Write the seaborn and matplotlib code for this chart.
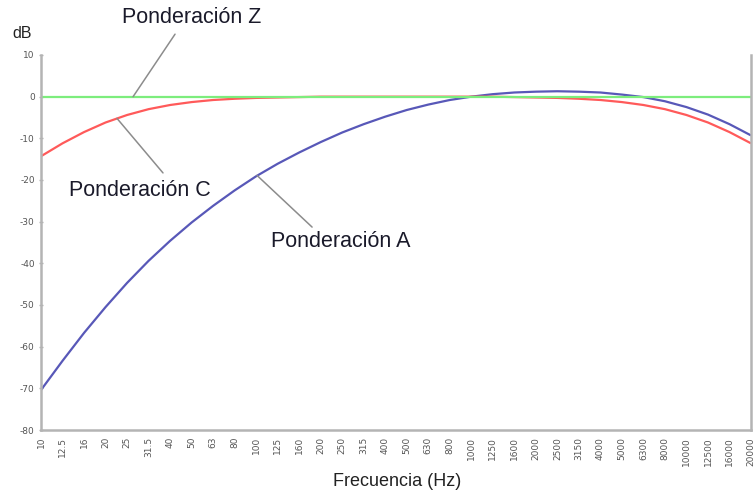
import matplotlib
matplotlib.use("Agg")
import matplotlib.pyplot as plt
import seaborn as sns
import pandas as pd
import numpy as np

freqs = ["10", "12.5", "16", "20", "25", "31.5", "40", "50", "63", "80", "100", "125",
         "160", "200", "250", "315", "400", "500", "630", "800", "1000", "1250", "1600",
         "2000", "2500", "3150", "4000", "5000", "6300", "8000", "10000", "12500",
         "16000", "20000"]
a_weight = [-70.4, -63.4, -56.7, -50.5, -44.7, -39.4, -34.6, -30.2, -26.2, -22.5, -19.1,
            -16.1, -13.4, -10.9, -8.6, -6.6, -4.8, -3.2, -1.9, -0.8, 0.0, 0.6, 1.0, 1.2,
            1.3, 1.2, 1.0, 0.5, -0.1, -1.1, -2.5, -4.3, -6.6, -9.3]
c_weight = [-14.3, -11.2, -8.5, -6.2, -4.4, -3.0, -2.0, -1.3, -0.8, -0.5, -0.3, -0.2,
            -0.1, 0.0, 0.0, 0.0, 0.0, 0.0, 0.0, 0.0, 0.0, 0.0, -0.1, -0.2, -0.3, -0.5,
            -0.8, -1.3, -2.0, -3.0, -4.4, -6.2, -8.5, -11.2]
z_weight = [0.0] * len(freqs)
series_names = ["Ponderación A", "Ponderación C", "Ponderación Z"]
y_ticks = [10, 0, -10, -20, -30, -40, -50, -60, -70, -80]

sns.set_theme(style="white")
plt.rcParams["font.family"] = ["Liberation Sans", "DejaVu Sans"]

idx = np.arange(len(freqs))
df = pd.concat([
    pd.DataFrame({"pos": idx, "dB": a_weight, "serie": series_names[0]}),
    pd.DataFrame({"pos": idx, "dB": c_weight, "serie": series_names[1]}),
    pd.DataFrame({"pos": idx, "dB": z_weight, "serie": series_names[2]}),
])
palette = {series_names[0]: "#5858b8", series_names[1]: "#ff5a5a", series_names[2]: "#7ded7d"}

fig = plt.figure(figsize=(7.56, 4.93), dpi=100)
ax = fig.add_axes([41/756, 1-430/493, 710/756, 375/493])

sns.lineplot(data=df, x="pos", y="dB", hue="serie", palette=palette, linewidth=1.6,
             legend=False, ax=ax, sort=True)
# draw Z on top
for ln in ax.get_lines():
    ln.set_solid_capstyle("butt")

ax.set_xlim(0, len(freqs) - 1)
ax.set_ylim(-80, 10)
ax.set_xticks(idx)
ax.set_xticklabels(freqs, rotation=90, fontsize=6.5, color="#555555",
                   family=["DejaVu Sans"])
ax.set_yticks(y_ticks)
ax.set_yticklabels([str(v) for v in y_ticks], fontsize=6.5, color="#555555",
                   family=["DejaVu Sans"])
ax.tick_params(axis="x", length=0, pad=5)
ax.tick_params(axis="y", length=3, width=1, color="#b0b0b0", direction="inout", pad=3, left=True)
ax.set_xlabel("")
ax.set_ylabel("")

for side in ["left", "right", "bottom"]:
    ax.spines[side].set_visible(True)
    ax.spines[side].set_color("#b4b4b4")
    ax.spines[side].set_linewidth(1.8)
ax.spines["top"].set_visible(False)
ax.grid(False)

fig.text(22/756, 1-33/493, "dB", fontsize=11.5, color="#222222", ha="center", va="center")
fig.text(397/756, 1-481/493, "Frecuencia (Hz)", fontsize=13, color="#222222",
         ha="center", va="center")

# annotations (leader lines from curve points to labels)
lead = "#8c8c8c"
ax.annotate("", xy=(4.28, 0.0), xytext=(6.23, 15.0), annotation_clip=False,
            arrowprops=dict(arrowstyle="-", color=lead, lw=1.1, shrinkA=0, shrinkB=0))
ax.text(7.02, 18.9, "Ponderación Z", fontsize=15.5, color="#1a1a2a", ha="center",
        va="center", clip_on=False)
ax.annotate("", xy=(3.53, -5.2), xytext=(5.67, -18.3),
            arrowprops=dict(arrowstyle="-", color=lead, lw=1.1, shrinkA=0, shrinkB=0))
ax.text(4.6, -22.6, "Ponderación C", fontsize=15.5, color="#1a1a2a", ha="center", va="center")
ax.annotate("", xy=(10.04, -18.9), xytext=(12.6, -31.3),
            arrowprops=dict(arrowstyle="-", color=lead, lw=1.1, shrinkA=0, shrinkB=0))
ax.text(13.94, -34.8, "Ponderación A", fontsize=15.5, color="#1a1a2a", ha="center", va="center")

fig.savefig("out.png", dpi=100)
